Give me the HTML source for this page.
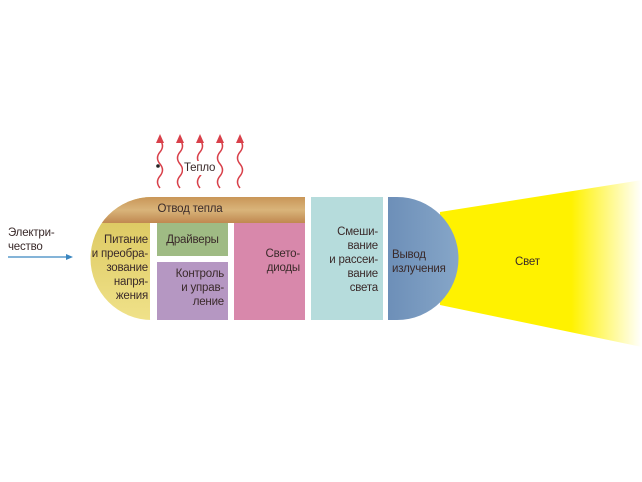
<!DOCTYPE html>
<html><head><meta charset="utf-8"><style>
body{margin:0;width:642px;height:482px;background:#fff;position:relative;overflow:hidden;font-family:"Liberation Sans",sans-serif;}
.t{position:absolute;font-size:11.5px;line-height:14px;color:#3a2a2a;white-space:nowrap;letter-spacing:-0.2px}
.r{text-align:right}
.c{text-align:center}
</style></head><body>
<svg width="642" height="482" style="position:absolute;left:0;top:0">
<defs>
<linearGradient id="beam" x1="0" x2="1" y1="0" y2="0">
<stop offset="0" stop-color="#fff200"/><stop offset="0.65" stop-color="#fff200"/><stop offset="1" stop-color="#fff"/></linearGradient>
<linearGradient id="band" x1="0" x2="0" y1="0" y2="1">
<stop offset="0" stop-color="#c99658"/><stop offset="0.5" stop-color="#d9b47a"/><stop offset="1" stop-color="#c08850"/></linearGradient>
<linearGradient id="yel" x1="0" x2="0" y1="0" y2="1">
<stop offset="0" stop-color="#d9c45a"/><stop offset="1" stop-color="#f0e28a"/></linearGradient>
<linearGradient id="blu" x1="0" x2="1" y1="0" y2="0">
<stop offset="0" stop-color="#6d8fb8"/><stop offset="1" stop-color="#86a6c8"/></linearGradient>
<clipPath id="cap"><path d="M152 197 H305 V320 H152 A61.5 61.5 0 0 1 152 197Z"/></clipPath>
</defs>
<polygon points="440,212 642,180 642,347 440,305" fill="url(#beam)"/>
<g clip-path="url(#cap)">
<rect x="88" y="197" width="220" height="125" fill="url(#yel)"/>
<rect x="150" y="223" width="160" height="100" fill="#fff"/>
<rect x="88" y="197" width="220" height="26" fill="url(#band)"/>
</g>
<rect x="157" y="223" width="71" height="33" fill="#9fbb84"/>
<rect x="157" y="262" width="71" height="58" fill="#b597c2"/>
<rect x="234" y="223" width="71" height="97" fill="#d888ab"/>
<rect x="311" y="197" width="72" height="123" fill="#b6dcdc"/>
<path d="M388 197 H397 A61.5 61.5 0 0 1 397 320 H388Z" fill="url(#blu)"/>
<line x1="8" y1="257" x2="68" y2="257" stroke="#3a86c0" stroke-width="1.3"/>
<polygon points="66,254 73,257 66,260" fill="#3a86c0"/>
<g stroke="#d8404a" stroke-width="1.5" fill="none">
<path d="M160 188 q-5-6 0-12 q5-6 0-12 q-5-6 0-12 q5-6 0-12"/>
<path d="M180 188 q-5-6 0-12 q5-6 0-12 q-5-6 0-12 q5-6 0-12"/>
<path d="M200 188 q-5-6 0-12 q5-6 0-12 q-5-6 0-12 q5-6 0-12"/>
<path d="M220 188 q-5-6 0-12 q5-6 0-12 q-5-6 0-12 q5-6 0-12"/>
<path d="M240 188 q-5-6 0-12 q5-6 0-12 q-5-6 0-12 q5-6 0-12"/>
</g>
<g fill="#d8404a">
<polygon points="156,143 160,134 164,143"/><polygon points="176,143 180,134 184,143"/><polygon points="196,143 200,134 204,143"/><polygon points="216,143 220,134 224,143"/><polygon points="236,143 240,134 244,143"/>
</g>
<circle cx="158" cy="166" r="1.8" fill="#222"/>
</svg>
<div class="t" style="left:183px;top:161px;background:#fff;padding:0 1px">Тепло</div>
<div class="t" style="left:8px;top:226px">Электри-<br>чество</div>
<div class="t c" style="left:150px;top:202px;width:80px">Отвод тепла</div>
<div class="t r" style="left:78px;top:233px;width:70px">Питание<br>и преобра-<br>зование<br>напря-<br>жения</div>
<div class="t c" style="left:157px;top:233px;width:71px">Драйверы</div>
<div class="t r" style="left:157px;top:267px;width:67px">Контроль<br>и управ-<br>ление</div>
<div class="t r" style="left:234px;top:247px;width:66px">Свето-<br>диоды</div>
<div class="t r" style="left:306px;top:225px;width:72px">Смеши-<br>вание<br>и рассеи-<br>вание<br>света</div>
<div class="t" style="left:392px;top:248px">Вывод<br>излучения</div>
<div class="t" style="left:515px;top:255px">Свет</div>
</body></html>
